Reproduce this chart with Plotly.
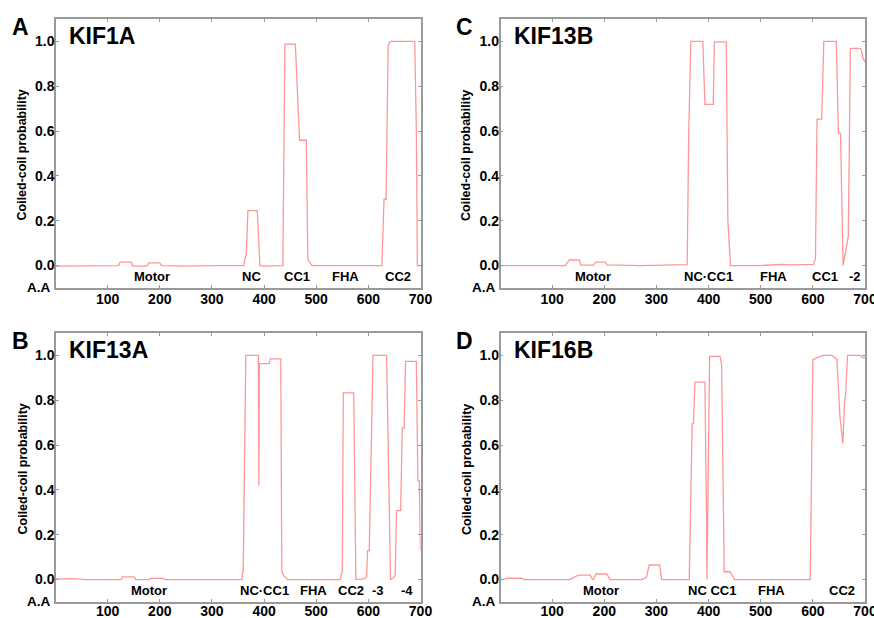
import plotly.graph_objects as go

W, H = 874, 618

# ---------------- data ----------------
kif1a_x = [1, 40, 70, 100, 121, 124, 145, 148, 175, 179, 200, 203, 250, 300, 340, 361, 364, 366, 369, 387, 392, 400, 436, 440, 460, 468, 481, 484, 486, 492, 550, 626, 630, 634, 638, 642, 689, 692, 694, 700]
kif1a_y = [-0.002, -0.002, 0.0, -0.002, 0.0, 0.015, 0.015, -0.002, -0.002, 0.012, 0.012, 0.0, -0.002, 0.0, -0.002, 0.0, 0.04, 0.05, 0.245, 0.245, 0.0, -0.002, 0.0, 0.988, 0.988, 0.559, 0.559, 0.03, 0.02, 0.0, 0.0, 0.0, 0.296, 0.296, 0.98, 1.0, 1.0, 0.6, 0.0, 0.0]

kif13a_x = [1, 30, 60, 100, 126, 129, 151, 154, 180, 182, 207, 210, 250, 290, 330, 357, 360, 365, 389, 390, 391, 410, 411.5, 432, 434, 437, 445, 500, 545.5, 550, 552, 572, 576, 590, 596.6, 598.5, 601.7, 609, 635, 642.5, 649, 651.5, 654, 662, 665, 668.7, 671.3, 692, 695, 697.6, 700]
kif13a_y = [0.002, 0.004, 0.0, 0.0, 0.0, 0.012, 0.012, 0.0, 0.0, 0.005, 0.005, 0.0, 0.0, 0.002, 0.0, 0.0, 0.04, 1.0, 1.0, 0.42, 0.963, 0.963, 0.985, 0.985, 0.04, 0.02, 0.0, 0.0, 0.0, 0.04, 0.833, 0.833, 0.0, 0.003, 0.01, 0.129, 0.129, 1.0, 1.0, 0.0, 0.01, 0.02, 0.308, 0.308, 0.677, 0.677, 0.973, 0.973, 0.44, 0.44, 0.13]

kif13b_x = [1, 70, 100, 125, 133, 152, 155, 179, 184, 202, 205, 270, 300, 350, 359, 362, 366, 389, 393, 409, 411, 434, 437, 442, 500, 540, 560, 601, 605, 608, 617, 621, 645, 649, 653, 658, 665, 668, 672, 692, 696, 700]
kif13b_y = [0.0, 0.002, 0.0, 0.0, 0.025, 0.025, 0.002, 0.002, 0.015, 0.015, 0.003, 0.0, 0.002, 0.003, 0.004, 0.6, 1.0, 1.0, 0.719, 0.719, 0.998, 0.998, 0.2, 0.0, 0.0, 0.005, 0.003, 0.005, 0.03, 0.653, 0.653, 1.0, 1.0, 0.59, 0.59, 0.0, 0.1, 0.13, 0.969, 0.969, 0.926, 0.91]

kif16b_x = [1, 4, 16, 42, 45, 134, 146, 152, 173, 176, 179, 184, 205, 211, 272, 281, 286, 306, 310, 363, 368.5, 371, 374, 393, 396, 397, 402, 422, 425, 430, 441, 450, 595, 600, 608, 620, 636, 646, 652, 657.5, 661, 662.7, 666.5, 691, 695, 700]
kif16b_y = [0.0, 0.0, 0.006, 0.006, 0.0, 0.0, 0.015, 0.02, 0.02, 0.005, 0.0, 0.025, 0.025, 0.0, 0.0, 0.01, 0.065, 0.065, 0.0, 0.0, 0.696, 0.696, 0.881, 0.881, 0.3, 0.0, 0.996, 0.996, 0.96, 0.035, 0.035, 0.0, 0.0, 0.98, 0.99, 1.0, 1.0, 0.985, 0.726, 0.607, 0.8, 0.82, 1.0, 1.0, 0.99, 0.99]

titles = ["KIF1A", "KIF13A", "KIF13B", "KIF16B"]
letters = ["A", "B", "C", "D"]

kif1a_labels = ["Motor", "NC", "CC1", "FHA", "CC2"]
kif1a_label_x = [186, 376, 463, 557, 657]
kif13a_labels = ["Motor", "NC·CC1", "FHA", "CC2", "-3", "-4"]
kif13a_label_x = [180, 401, 495, 567, 618, 674]
kif13b_labels = ["Motor", "NC·CC1", "FHA", "CC1", "-2"]
kif13b_label_x = [179, 400, 525, 624, 680]
kif16b_labels = ["Motor", "NC CC1", "FHA", "CC2"]
kif16b_label_x = [194, 407, 521, 656]

x_ticks = [100, 200, 300, 400, 500, 600, 700]
y_ticks = [0.0, 0.2, 0.4, 0.6, 0.8, 1.0]
y_tick_text = ["0.0", "0.2", "0.4", "0.6", "0.8", "1.0"]

# ---------------- layout geometry (pixels) ----------------
panels = [
    (kif1a_x, kif1a_y, kif1a_labels, kif1a_label_x, 56, 420.5, 19, 288),
    (kif13a_x, kif13a_y, kif13a_labels, kif13a_label_x, 56, 420.5, 333, 602),
    (kif13b_x, kif13b_y, kif13b_labels, kif13b_label_x, 500.5, 865, 19, 288),
    (kif16b_x, kif16b_y, kif16b_labels, kif16b_label_x, 500.5, 865, 333, 602),
]

FONT = "Liberation Sans, Arial, sans-serif"
LINE = "#FF9696"
BORDER = "#9A9A9A"

fig = go.Figure()
layout = dict(
    width=W, height=H, autosize=False,
    margin=dict(l=0, r=0, t=0, b=0, autoexpand=False),
    paper_bgcolor="white", plot_bgcolor="white",
    showlegend=False,
    font=dict(family=FONT, color="black"),
)
annotations = []

for i, (xs, ys, labs, labx, L, R, T, B) in enumerate(panels):
    n = "" if i == 0 else str(i + 1)
    xa, ya = "x" + n, "y" + n
    fig.add_trace(go.Scatter(x=xs, y=ys, mode="lines",
                             line=dict(color=LINE, width=1.3),
                             xaxis=xa, yaxis=ya, hoverinfo="skip"))
    common = dict(showline=True, linecolor=BORDER, linewidth=1.5, mirror="allticks",
                  ticks="inside", ticklen=3, tickcolor=BORDER, tickwidth=1,
                  showgrid=False, zeroline=False, automargin=False,
                  ticklabeloverflow="allow", ticklabelstandoff=-3,
                  tickfont=dict(family=FONT, size=14, color="black", weight="bold"))
    x_standoff = -5 if B > 300 else -3
    layout["xaxis" + n] = dict(common, domain=[L / W, R / W], range=[1, 700],
                               anchor=ya, tickvals=x_ticks, ticklabelstandoff=x_standoff)
    layout["yaxis" + n] = dict(common, domain=[1 - B / H, 1 - T / H], range=[-0.1, 1.1],
                               anchor=xa, tickvals=y_ticks, ticktext=y_tick_text)
    for t, xv in zip(labs, labx):
        annotations.append(dict(x=xv, y=-0.05, xref=xa, yref=ya, text="<b>%s</b>" % t,
                                showarrow=False, font=dict(size=13, family=FONT),
                                xanchor="center", yanchor="middle"))
    annotations.append(dict(x=(L + 11) / W, y=1 - (T + 17) / H, xref="paper", yref="paper",
                            text="<b>%s</b>" % titles[i], showarrow=False,
                            font=dict(size=23, family=FONT), xanchor="left", yanchor="middle"))
    annotations.append(dict(x=(L - 36) / W, y=1 - (T + 8) / H, xref="paper", yref="paper",
                            text="<b>%s</b>" % letters[i], showarrow=False,
                            font=dict(size=23, family=FONT), xanchor="center", yanchor="middle"))
    annotations.append(dict(x=(L - 34) / W, y=1 - ((T + B) / 2 + 2) / H, xref="paper", yref="paper",
                            text="<b>Coiled-coil probability</b>", showarrow=False, textangle=-90,
                            font=dict(size=12.5, family=FONT), xanchor="center", yanchor="middle"))
    annotations.append(dict(x=(L - 3) / W, y=1 - (B - 1) / H, xref="paper", yref="paper",
                            text="<b>A.A</b>", showarrow=False,
                            font=dict(size=13.5, family=FONT), xanchor="right", yanchor="middle"))

layout["annotations"] = annotations
fig.update_layout(**layout)
fig.write_html("out.html",
               config={"displayModeBar": False, "responsive": False},
               post_script="document.body.style.margin='0';document.body.style.padding='0';"
                           "document.documentElement.style.overflow='hidden';")
